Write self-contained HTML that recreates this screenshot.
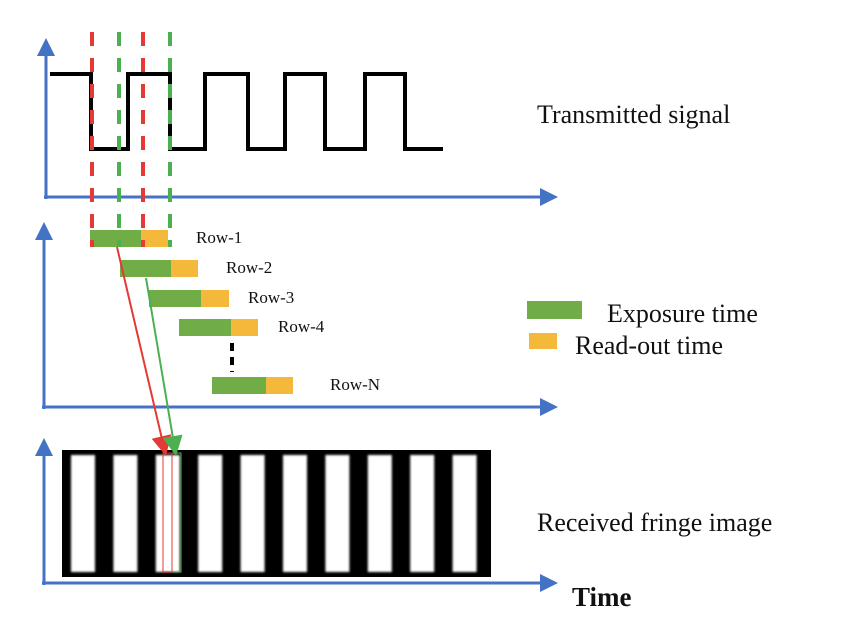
<!DOCTYPE html>
<html><head><meta charset="utf-8"><style>
html,body{margin:0;padding:0;background:#fff;}
svg{display:block;font-family:"Liberation Serif",serif;}
</style></head><body>
<svg id="fig" width="866" height="628" viewBox="0 0 866 628">
<defs>
<marker id="ab" markerWidth="18" markerHeight="18" refX="4" refY="9" orient="auto" markerUnits="userSpaceOnUse"><path d="M0,0 L18,9 L0,18 z" fill="#4472c4"/></marker>
<filter id="blur"><feGaussianBlur stdDeviation="1"/></filter>
</defs>
<g id="axes"></g>
<g id="signal"></g>
<g id="fringe"></g>
<g id="rows"></g>
<g id="guides"></g>
<text x="537" y="123" font-size="26" fill="#111">Transmitted signal</text>
<text x="537" y="531" font-size="26" fill="#111">Received fringe image</text>
<text x="572" y="606" font-size="27" font-weight="bold" fill="#111">Time</text>
<rect x="527" y="301" width="55" height="18" fill="#70ad47"/>
<text x="607" y="322" font-size="26" fill="#111">Exposure time</text>
<rect x="529" y="333" width="28" height="16" fill="#f4b93a"/>
<text x="575" y="354" font-size="26" fill="#111">Read-out time</text>
</svg>
<script>
const NS='http://www.w3.org/2000/svg';
function mk(tag,attrs,parent){const e=document.createElementNS(NS,tag);for(const k in attrs)e.setAttribute(k,attrs[k]);parent.appendChild(e);return e;}
// data
const signalEdges=[50,91,128,170,205,248,285,325,365,405,443];
const signalStart=1; // 1 = high
const rowLabels=['Row-1','Row-2','Row-3','Row-4','Row-N'];
const rowStarts=[90,120,149,179,212];
const exposureLen=[51,51,52,52,54];
const readoutLen=[27,27,28,27,27];
const rowTops=[230,260,290,319,377];
const labelX=[196,226,248,278,330];
const fringeCount=10;
const hi=74, lo=149;

const axes=document.getElementById('axes');
const axisDefs=[['top',46,197,38,558],['middle',44,407,222,558],['bottom',44,583,438,558]];
axisDefs.forEach(a=>{
 const y=mk('line',{x1:a[1],y1:a[2]+2,x2:a[1],y2:a[3]+14,stroke:'#4472c4','stroke-width':3,'marker-end':'url(#ab)'},axes);
 
 
 const x=mk('line',{x1:a[1]-2,y1:a[2],x2:a[4]-14,y2:a[2],stroke:'#4472c4','stroke-width':3,'marker-end':'url(#ab)'},axes);
 
 
});
// signal
let d='',level=signalStart;
signalEdges.forEach((x,i)=>{const y=level?hi:lo;if(i===0)d+='M'+x+','+y;else{d+=' L'+x+','+y;level=1-level;if(i<signalEdges.length-1)d+=' L'+x+','+(level?hi:lo);}});
const sp=mk('path',{d:d,fill:'none',stroke:'#000','stroke-width':4},document.getElementById('signal'));


// fringe image
const fg=document.getElementById('fringe');
const bg=mk('rect',{x:62,y:450,width:429,height:127,fill:'#000'},fg);


const period=42.4;
for(let i=0;i<fringeCount;i++){
 const r=mk('rect',{x:71+i*period,y:455,width:24,height:117,fill:'#fff',filter:'url(#blur)'},fg);
 
 
}
const gr=mk('rect',{x:163,y:453,width:18,height:119,fill:'none',stroke:'#4caf50','stroke-width':1},fg);


const rr=mk('rect',{x:163,y:453,width:9,height:119,fill:'none',stroke:'#e53935','stroke-width':1},fg);


// rows
const rg=document.getElementById('rows');
rowLabels.forEach((lab,i)=>{
 const e=mk('rect',{x:rowStarts[i],y:rowTops[i],width:exposureLen[i],height:17,fill:'#70ad47'},rg);
 
 
 const r=mk('rect',{x:rowStarts[i]+exposureLen[i],y:rowTops[i],width:readoutLen[i],height:17,fill:'#f4b93a'},rg);
 
 
 const t=mk('text',{x:labelX[i],y:rowTops[i]+13,'font-size':17,fill:'#111'},rg);
 t.textContent=lab;
 
 
});
const dl=mk('line',{x1:232,y1:343,x2:232,y2:372,stroke:'#000','stroke-width':4,'stroke-dasharray':'8,6'},rg);


// guides
const gg=document.getElementById('guides');
[[92,'#e53935'],[119,'#4caf50'],[143,'#e53935'],[170,'#4caf50']].forEach(g=>{
 const l=mk('line',{x1:g[0],y1:32,x2:g[0],y2:247,stroke:g[1],'stroke-width':4,'stroke-dasharray':'14,12'},gg);
 
 
});
function arrow(x1,y1,x2,y2,c,name){
 const l=mk('line',{x1:x1,y1:y1,x2:x2-(x2-x1)*0.06,y2:y2-(y2-y1)*0.06,stroke:c,'stroke-width':2},gg);
 
 
 const ang=Math.atan2(y2-y1,x2-x1),L=20,W=10;
 const bx=x2-L*Math.cos(ang),by=y2-L*Math.sin(ang);
 const p=mk('polygon',{points:`${x2},${y2} ${bx+W*Math.sin(ang)},${by-W*Math.cos(ang)} ${bx-W*Math.sin(ang)},${by+W*Math.cos(ang)}`,fill:c},gg);
 
 
}
arrow(117,247,166,456,'#e53935','row1-mapping-arrow');
arrow(146,278,176,456,'#4caf50','row2-mapping-arrow');
</script>
</body></html>
